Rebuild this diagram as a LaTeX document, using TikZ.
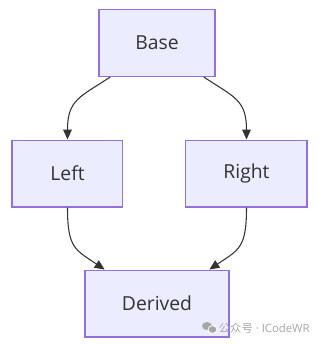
\documentclass[tikz,border=0pt]{standalone}
\usepackage{fontspec}
\setmainfont{Open Sans}
\newfontfamily\cjk{Noto Sans CJK SC}
\usepackage{tikz}
\usetikzlibrary{arrows.meta,positioning}
\definecolor{boxfill}{HTML}{ECECFF}
\definecolor{boxline}{HTML}{9370DB}
\definecolor{edgecol}{HTML}{333333}
\definecolor{markgray}{HTML}{A6A6A6}

\begin{document}
\begin{tikzpicture}[
    x=0.75pt, y=-0.75pt,
    cls/.style={rectangle, draw=boxline, fill=boxfill, line width=1pt, minimum height=50pt, text=edgecol, font=\fontsize{14.5}{17}\selectfont},
    edge/.style={-{Triangle[length=7.5pt, width=6.5pt]}, draw=edgecol, line width=0.8pt}
]
    \useasboundingbox (0,0) rectangle (321,344);

    % Class nodes
    \node[cls, minimum width=87pt] (base) at (157,43) {Base};
    \node[cls, minimum width=83pt] (left) at (67.5,173.5) {Left};
    \node[cls, minimum width=91pt] (right) at (246.5,173.5) {Right};
    \node[cls, minimum width=108pt] (derived) at (157,303.5) {Derived};

    % Inheritance edges
    \draw[edge] (base.216) .. controls +(-30,20) and +(0,-40) .. (left.north);
    \draw[edge] (base.324) .. controls +(30,20) and +(0,-40) .. (right.north);
    \draw[edge] (left.south) .. controls +(0,40) and +(-30,-20) .. (derived.147);
    \draw[edge] (right.south) .. controls +(0,40) and +(30,-20) .. (derived.33);

    % Watermark
    \fill[markgray] (207,326) ellipse (5 and 4);
    \fill[markgray, draw=white, line width=0.6pt] (212.5,329.5) ellipse (4.5 and 3.8);
    \node[anchor=east, inner sep=0pt, text=markgray, font=\fontsize{8.5}{10}\selectfont] (mark) at (310,328) {{\cjk 公众号} · ICodeWR};
\end{tikzpicture}
\end{document}
